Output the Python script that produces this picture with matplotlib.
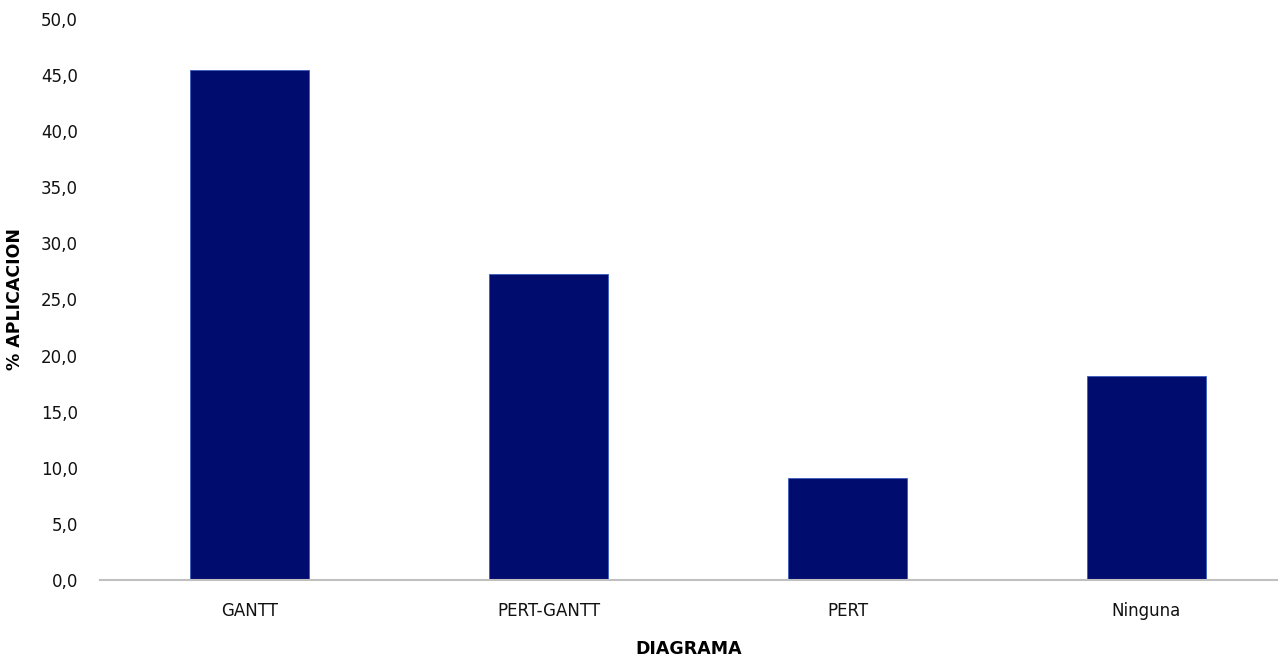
import numpy as np
import matplotlib.pyplot as plt
from matplotlib.ticker import FuncFormatter

diagramas = ["GANTT", "PERT-GANTT", "PERT", "Ninguna"]
aplicacion = [45.45, 27.27, 9.09, 18.18]
y_ticks = [0, 5, 10, 15, 20, 25, 30, 35, 40, 45, 50]

bar_colour = "#000c6e"

fig = plt.figure(figsize=(12.78, 6.58), dpi=100)
ax = fig.add_axes([100 / 1278, 1 - 580 / 658, 1 - 100 / 1278, (580 - 19) / 658])

x = np.arange(len(diagramas))
ax.bar(x, aplicacion, width=0.4, color=bar_colour, edgecolor="#3a5cc0", linewidth=0.6)

ax.set_xlim(-0.5, 3.44)
ax.set_ylim(0, 50)
ax.set_yticks(y_ticks)
ax.yaxis.set_major_formatter(FuncFormatter(lambda v, p: f"{v:.1f}".replace(".", ",")))
ax.set_xticks(x)
ax.set_xticklabels(diagramas)

for side in ["top", "right", "left"]:
    ax.spines[side].set_visible(False)
ax.spines["bottom"].set_color("#c0c0c0")
ax.spines["bottom"].set_linewidth(1.5)
ax.tick_params(length=0, labelsize=12, colors="#111111")
ax.tick_params(axis="x", pad=16)
ax.tick_params(axis="y", pad=16)

ax.set_xlabel("DIAGRAMA", fontsize=12.5, fontweight="bold", labelpad=14)
ax.set_ylabel("% APLICACION", fontsize=12.5, fontweight="bold", labelpad=12)

fig.savefig("out.png", dpi=100)
